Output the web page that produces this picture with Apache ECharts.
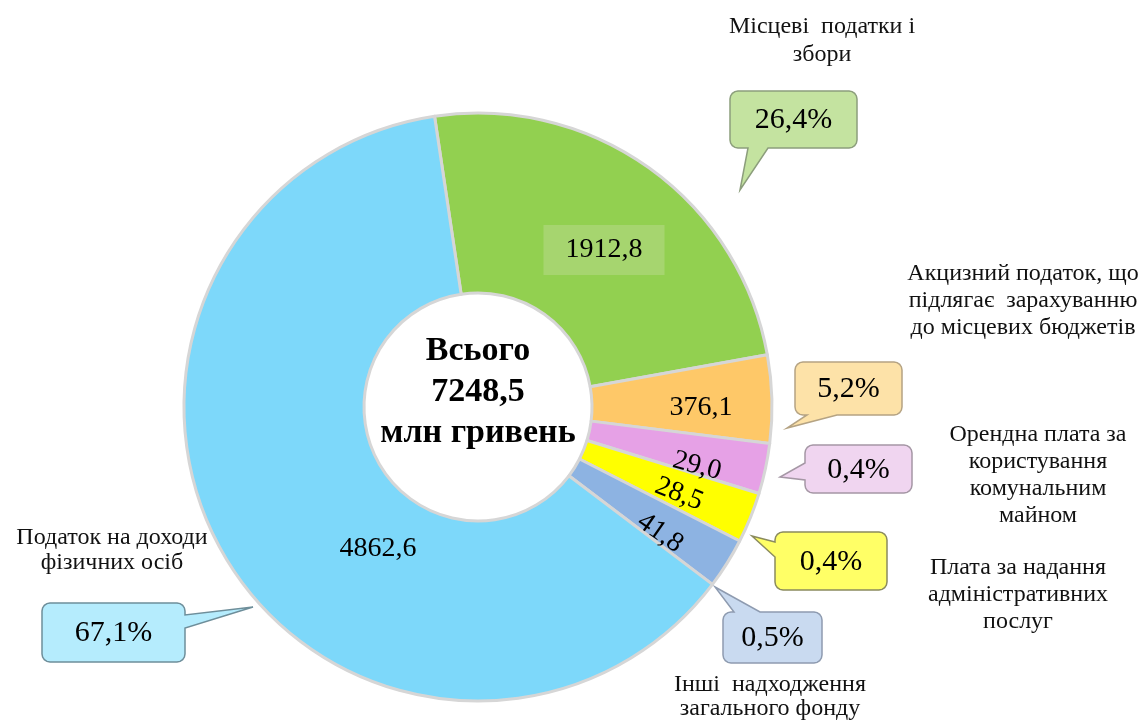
<!DOCTYPE html>
<html>
<head>
<meta charset="utf-8">
<script src="https://cdn.jsdelivr.net/npm/echarts@6/dist/echarts.min.js"></script>
<style>
  html, body { margin: 0; padding: 0; background: #fff; }
  #chart { width: 1144px; height: 722px; }
</style>
</head>
<body>
<div id="chart"></div>
<script>
// data, clockwise from the top
const names = [
  'Місцеві  податки і\nзбори',
  'Акцизний податок, що\nпідлягає  зарахуванню\nдо місцевих бюджетів',
  'Орендна плата за\nкористування\nкомунальним\nмайном',
  'Плата за надання\nадміністративних\nпослуг',
  'Інші  надходження\nзагального фонду',
  'Податок на доходи\nфізичних осіб'
];
const values = [1912.8, 376.1, 29.0, 28.5, 41.8, 4862.6];
const shares = [26.4, 5.2, 0.4, 0.4, 0.5, 67.1];
const total = 7248.5;

const sliceColors = ['#92d050', '#fec868', '#e6a1e6', '#ffff00', '#8db3e2', '#7dd8fa'];
const bubbleFill = ['#c4e3a0', '#fde2a8', '#f0d5f0', '#ffff66', '#c9daf0', '#b5ecfd'];
const bubbleLine = ['#8c9e7c', '#b5a383', '#a597a5', '#8b8b5e', '#8e9bb0', '#6e8e9a'];

// label placement
const valuePos = [[604, 250], [701, 408], [697, 466], [679, 494], [660, 533], [378, 549]];
const valueRot = [0, 0, -15, -22, -35, 0];
const namePos = [[822, 41], [1023, 301], [1038, 475], [1018, 595], [770, 697], [112, 550]];
const nameLineHeight = [28, 27, 27, 27, 24, 25];
// callout boxes: x, y, w, h, side of the tail, tail base, tail tip
const bubbles = [
  { x: 730, y: 91, w: 127, h: 57, side: 'bottom', t1: 748, t2: 768, tip: [740, 190] },
  { x: 795, y: 362, w: 107, h: 53, side: 'bottom', t1: 807, t2: 837, tip: [787, 428] },
  { x: 805, y: 445, w: 107, h: 48, side: 'left', t1: 463, t2: 480, tip: [780, 477] },
  { x: 775, y: 532, w: 112, h: 58, side: 'left', t1: 542, t2: 557, tip: [752, 536] },
  { x: 723, y: 612, w: 99, h: 51, side: 'top', t1: 734, t2: 760, tip: [715, 587] },
  { x: 42, y: 603, w: 143, h: 59, side: 'right', t1: 615, t2: 628, tip: [253, 607] }
];

const serif = '"Times New Roman", "Liberation Serif", serif';
const fmt = v => v.toFixed(1).replace('.', ',');

function bubblePoints(b) {
  const r = 8, pts = [];
  const corner = (cx, cy, a0) => {
    for (let k = 0; k <= 4; k++) {
      const a = (a0 + k * 22.5) * Math.PI / 180;
      pts.push([cx + r * Math.cos(a), cy + r * Math.sin(a)]);
    }
  };
  corner(b.x + r, b.y + r, 180);
  if (b.side === 'top') pts.push([b.t1, b.y], b.tip, [b.t2, b.y]);
  corner(b.x + b.w - r, b.y + r, 270);
  if (b.side === 'right') pts.push([b.x + b.w, b.t1], b.tip, [b.x + b.w, b.t2]);
  corner(b.x + b.w - r, b.y + b.h - r, 0);
  if (b.side === 'bottom') pts.push([b.t2, b.y + b.h], b.tip, [b.t1, b.y + b.h]);
  corner(b.x + r, b.y + b.h - r, 90);
  if (b.side === 'left') pts.push([b.x, b.t2], b.tip, [b.x, b.t1]);
  return pts;
}

const chart = echarts.init(document.getElementById('chart'));

const pieBase = {
  type: 'pie',
  center: [478, 407],
  radius: [114, 294],
  startAngle: 98.5,
  minAngle: 10,
  avoidLabelOverlap: false,
  animation: false,
  emphasis: { disabled: true }
};

const option = {
  backgroundColor: '#ffffff',
  graphic: {
    elements: bubbles.map((b, i) => ({
      type: 'polygon',
      shape: { points: bubblePoints(b) },
      style: { fill: bubbleFill[i], stroke: bubbleLine[i], lineWidth: 1.5 },
      silent: true
    })).concat([{
      type: 'text',
      x: 478,
      y: 392,
      silent: true,
      style: {
        text: 'Всього\n' + fmt(total) + '\nмлн гривень',
        align: 'center',
        verticalAlign: 'middle',
        font: 'bold 34px ' + serif,
        lineHeight: 41,
        fill: '#000'
      }
    }])
  },
  series: [
    Object.assign({}, pieBase, {
      z: 2,
      itemStyle: { borderColor: '#d6d6d6', borderWidth: 3 },
      label: {
        show: true,
        position: 'inside',
        fontFamily: serif,
        fontSize: 28,
        color: '#000',
        formatter: p => fmt(p.value)
      },
      labelLayout: p => ({
        x: valuePos[p.dataIndex][0],
        y: valuePos[p.dataIndex][1],
        align: 'center',
        verticalAlign: 'middle',
        rotate: valueRot[p.dataIndex]
      }),
      data: values.map((v, i) => ({
        name: names[i],
        value: v,
        itemStyle: { color: sliceColors[i] },
        label: i === 0 ? { backgroundColor: '#a6d56f', padding: [11, 22] } : {}
      }))
    }),
    Object.assign({}, pieBase, {
      z: 3,
      silent: true,
      itemStyle: { color: 'transparent', borderWidth: 0 },
      label: {
        show: true,
        position: 'outside',
        fontFamily: serif,
        fontSize: 30,
        color: '#000',
        formatter: p => fmt(shares[p.dataIndex]) + '%'
      },
      labelLine: { show: false },
      labelLayout: p => {
        const b = bubbles[p.dataIndex];
        return { x: b.x + b.w / 2, y: b.y + b.h / 2 + 1, align: 'center', verticalAlign: 'middle' };
      },
      data: values.map((v, i) => ({ name: names[i], value: v }))
    }),
    Object.assign({}, pieBase, {
      z: 3,
      silent: true,
      itemStyle: { color: 'transparent', borderWidth: 0 },
      label: {
        show: true,
        position: 'outside',
        fontFamily: serif,
        fontSize: 24,
        color: '#111',
        align: 'center',
        formatter: p => p.name
      },
      labelLine: { show: false },
      labelLayout: p => ({
        x: namePos[p.dataIndex][0],
        y: namePos[p.dataIndex][1],
        align: 'center',
        verticalAlign: 'middle'
      }),
      data: values.map((v, i) => ({
        name: names[i],
        value: v,
        label: { lineHeight: nameLineHeight[i] }
      }))
    })
  ]
};

chart.setOption(option);
</script>
</body>
</html>
